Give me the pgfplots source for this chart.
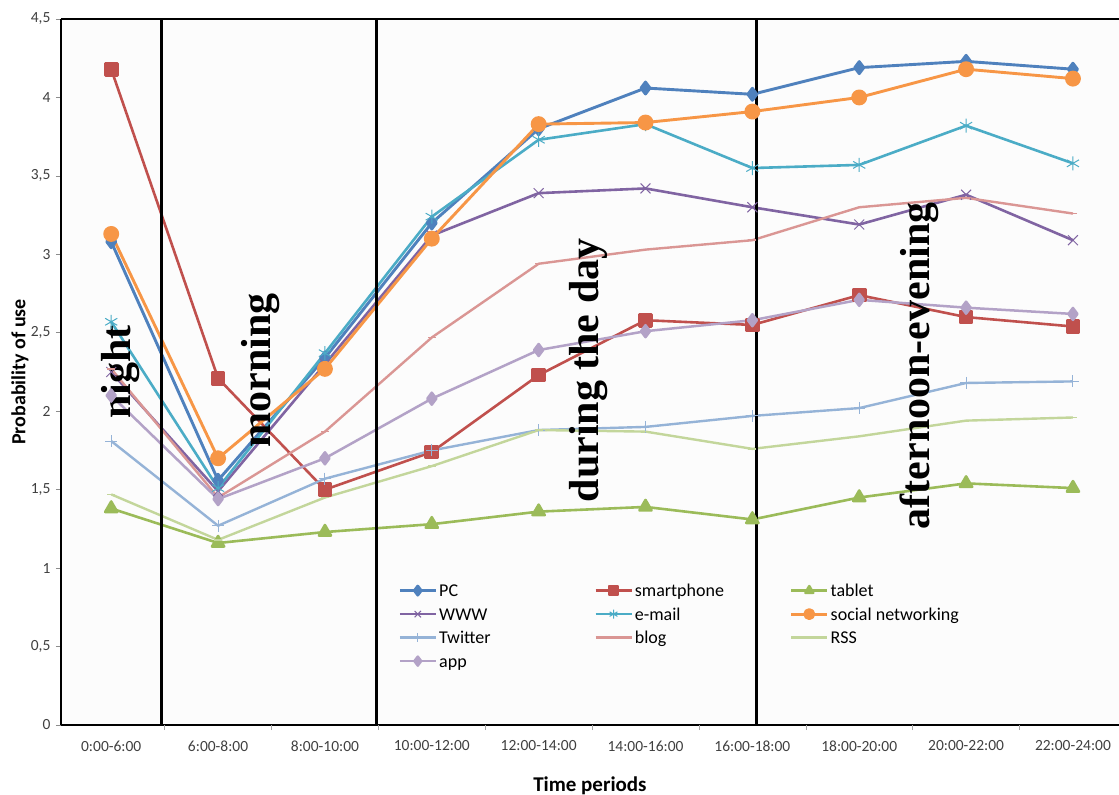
\documentclass[border=0pt]{standalone}
\usepackage{pgfplots}
\pgfplotsset{compat=1.18}
\usepackage{pgfplotstable}
\usepackage{fontspec}
\setmainfont{Carlito}
\newfontfamily\timesb{Liberation Serif}

\definecolor{cPC}{HTML}{4F81BD}
\definecolor{cSP}{HTML}{C0504D}
\definecolor{cTab}{HTML}{9BBB59}
\definecolor{cWWW}{HTML}{8064A2}
\definecolor{cMail}{HTML}{4BACC6}
\definecolor{cSoc}{HTML}{F79646}
\definecolor{cTw}{HTML}{95B3D7}
\definecolor{cBlog}{HTML}{DA9694}
\definecolor{cRSS}{HTML}{C3D69B}
\definecolor{cApp}{HTML}{B3A2C7}

\newcommand\lent[1]{\makebox[150pt][l]{\strut #1}}

\pgfplotstableread{
x PC   SP   Tab  WWW  Mail Soc  Tw   Blog RSS  App
0 3.08 4.18 1.38 2.25 2.57 3.13 1.81 2.27 1.47 2.10
1 1.56 2.21 1.16 1.49 1.51 1.70 1.27 1.45 1.18 1.44
2 2.34 1.50 1.23 2.30 2.37 2.27 1.57 1.87 1.45 1.70
3 3.20 1.74 1.28 3.12 3.24 3.10 1.75 2.47 1.65 2.08
4 3.80 2.23 1.36 3.39 3.73 3.83 1.88 2.94 1.88 2.39
5 4.06 2.58 1.39 3.42 3.83 3.84 1.90 3.03 1.87 2.51
6 4.02 2.55 1.31 3.30 3.55 3.91 1.97 3.09 1.76 2.58
7 4.19 2.74 1.45 3.19 3.57 4.00 2.02 3.30 1.84 2.71
8 4.23 2.60 1.54 3.38 3.82 4.18 2.18 3.36 1.94 2.66
9 4.18 2.54 1.51 3.09 3.58 4.12 2.19 3.26 1.96 2.62
}\datatable

\begin{document}
\begin{tikzpicture}
\path[use as bounding box] (-61pt,-70pt) rectangle (1058pt,725pt);
\begin{axis}[
  at={(0,0)}, anchor=south west,
  scale only axis, width=1058pt, height=706pt,
  xmin=-0.47, xmax=9.43, ymin=0, ymax=4.5,
  axis x line*=box, axis y line*=left,
  axis line style={line width=2.8pt, black},
  axis background/.style={fill=black!1},
  tick align=outside,
  xtick pos=left, ytick pos=left,
  xtick={0,...,9},
  xticklabels={0:00-6:00,6:00-8:00,8:00-10:00,10:00-12:00,12:00-14:00,14:00-16:00,16:00-18:00,18:00-20:00,20:00-22:00,22:00-24:00},
  xtick style={draw=none},
  extra x ticks={0.5,1.5,2.5,3.5,4.5,5.5,6.5,7.5,8.5},
  extra x tick labels={},
  extra x tick style={xtick style={draw=black!35, line width=0.6pt}},
  ytick={0,0.5,...,4.5},
  ytick style={draw=black!45, line width=0.6pt},
  major tick length=5pt,
  ticklabel style={font=\fontsize{15.5}{17}\selectfont, text=black!75},
  xticklabel style={yshift=-7pt},
  yticklabel style={xshift=-2pt, /pgf/number format/.cd, use comma, fixed, assume math mode=true},
  xlabel={Time periods},
  ylabel={Probability of use},
  xlabel style={font=\bfseries\fontsize{21}{23}\selectfont, at={(axis description cs:0.5,0)}, anchor=center, yshift=-61pt},
  ylabel style={font=\bfseries\fontsize{20}{22}\selectfont, at={(axis description cs:0,0.5)}, anchor=center, yshift=41pt},
  legend columns=3,
  legend cell align=left,
  legend style={at={(axis cs:2.685,0.92)}, anchor=north west, draw=none, fill=none,
    font=\fontsize{18}{20}\selectfont, row sep=4pt, inner sep=0pt,
    /tikz/every even column/.append style={column sep=3pt}},
  legend image code/.code={\draw[mark repeat=2,mark phase=2,#1,mark size=4.5pt] plot coordinates {(0pt,0pt) (18pt,0pt) (36pt,0pt)};},
  every axis plot/.append style={line join=round},
]
\addplot[cPC, line width=2.9pt, mark=diamond*, mark size=6pt, mark options={solid, fill=cPC}] table[x=x,y=PC]{\datatable};
\addlegendentry{\lent{PC}}
\addplot[cSP, line width=2.6pt, mark=square*, mark size=6pt, mark options={solid, fill=cSP}] table[x=x,y=SP]{\datatable};
\addlegendentry{\lent{smartphone}}
\addplot[cTab, line width=2.6pt, mark=triangle*, mark size=7pt, mark options={solid, fill=cTab}] table[x=x,y=Tab]{\datatable};
\addlegendentry{\lent{tablet}}
\addplot[cWWW, line width=2.6pt, mark=x, mark size=7pt, mark options={solid, line width=1pt}] table[x=x,y=WWW]{\datatable};
\addlegendentry{\lent{WWW}}
\addplot[cMail, line width=2.6pt, mark=asterisk, mark size=7pt, mark options={solid, line width=1pt}] table[x=x,y=Mail]{\datatable};
\addlegendentry{\lent{e-mail}}
\addplot[cSoc, line width=2.9pt, mark=*, mark size=6.5pt, mark options={solid, fill=cSoc}] table[x=x,y=Soc]{\datatable};
\addlegendentry{\lent{social networking}}
\addplot[cTw, line width=2.4pt, mark=+, mark size=6pt, mark options={solid, line width=1pt}] table[x=x,y=Tw]{\datatable};
\addlegendentry{\lent{Twitter}}
\addplot[cBlog, line width=2.4pt, mark=-, mark size=4pt, mark options={solid, line width=1.5pt}] table[x=x,y=Blog]{\datatable};
\addlegendentry{\lent{blog}}
\addplot[cRSS, line width=2.4pt, mark=-, mark size=4pt, mark options={solid, line width=1.5pt}] table[x=x,y=RSS]{\datatable};
\addlegendentry{\lent{RSS}}
\addplot[cApp, line width=2.5pt, mark=diamond*, mark size=6pt, mark options={solid, fill=cApp}] table[x=x,y=App]{\datatable};
\addlegendentry{\lent{app}}

\draw[line width=2.8pt, black] (axis cs:0.47,0) -- (axis cs:0.47,4.5);
\draw[line width=2.8pt, black] (axis cs:2.48,0) -- (axis cs:2.48,4.5);
\draw[line width=2.8pt, black] (axis cs:6.04,0) -- (axis cs:6.04,4.5);

\node[rotate=90, font=\timesb\bfseries\fontsize{42}{42}\selectfont] at (axis cs:0.09,2.25) {night};
\node[rotate=90, font=\timesb\bfseries\fontsize{42}{42}\selectfont] at (axis cs:1.40,2.26) {morning};
\node[rotate=90, font=\timesb\bfseries\fontsize{42}{42}\selectfont] at (axis cs:4.47,2.26) {during the day};
\node[rotate=90, font=\timesb\bfseries\fontsize{42}{42}\selectfont] at (axis cs:7.56,2.29) {afternoon-evening};
\end{axis}
\end{tikzpicture}
\end{document}
